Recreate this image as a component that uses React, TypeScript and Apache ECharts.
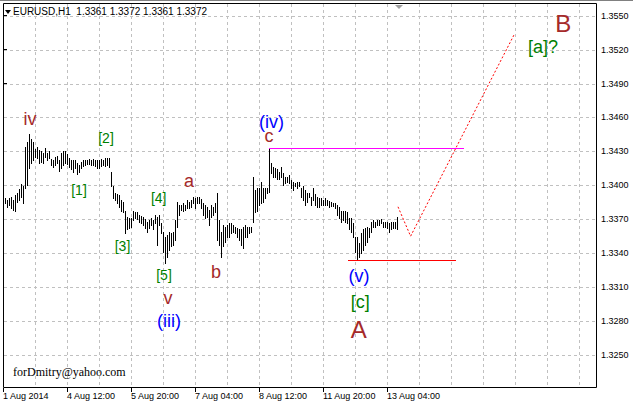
import React, { useEffect, useRef } from "react";
import * as echarts from "echarts";

// ---- Data (EURUSD H1, one entry per hourly bar) ----
const highs = [
  1.3390, 1.3389, 1.3387, 1.3389, 1.3390, 1.3387, 1.3391, 1.3393, 1.3397, 1.3401,
  1.3399, 1.3434, 1.3438, 1.3445, 1.3441, 1.3438, 1.3432, 1.3434, 1.3431, 1.3430,
  1.3429, 1.3433, 1.3429, 1.3430, 1.3423, 1.3422, 1.3425, 1.3426, 1.3422, 1.3429,
  1.3430, 1.3430, 1.3428, 1.3424, 1.3422, 1.3422, 1.3422, 1.3420, 1.3418, 1.3421,
  1.3422, 1.3422, 1.3422, 1.3423, 1.3422, 1.3423, 1.3422, 1.3422, 1.3422, 1.3423,
  1.3422, 1.3424, 1.3424, 1.3424, 1.3412, 1.3399, 1.3393, 1.3392, 1.3391, 1.3387,
  1.3385, 1.3377, 1.3372, 1.3371, 1.3371, 1.3377, 1.3376, 1.3376, 1.3374, 1.3373,
  1.3372, 1.3370, 1.3368, 1.3369, 1.3371, 1.3369, 1.3374, 1.3372, 1.3374, 1.3367,
  1.3359, 1.3354, 1.3356, 1.3359, 1.3358, 1.3359, 1.3369, 1.3385, 1.3383, 1.3383,
  1.3384, 1.3383, 1.3387, 1.3385, 1.3387, 1.3390, 1.3389, 1.3390, 1.3390, 1.3388,
  1.3384, 1.3383, 1.3381, 1.3378, 1.3383, 1.3381, 1.3384, 1.3393, 1.3369, 1.3359,
  1.3365, 1.3363, 1.3365, 1.3367, 1.3367, 1.3365, 1.3363, 1.3362, 1.3361, 1.3361,
  1.3363, 1.3365, 1.3363, 1.3363, 1.3363, 1.3407, 1.3396, 1.3398, 1.3398, 1.3403,
  1.3398, 1.3398, 1.3398, 1.3433, 1.3420, 1.3416, 1.3415, 1.3414, 1.3412, 1.3416,
  1.3411, 1.3407, 1.3407, 1.3409, 1.3405, 1.3403, 1.3402, 1.3403, 1.3403, 1.3398,
  1.3399, 1.3396, 1.3393, 1.3393, 1.3390, 1.3398, 1.3392, 1.3390, 1.3389, 1.3389,
  1.3387, 1.3389, 1.3387, 1.3386, 1.3385, 1.3384, 1.3384, 1.3383, 1.3381, 1.3377,
  1.3377, 1.3377, 1.3376, 1.3371, 1.3371, 1.3367, 1.3354, 1.3354, 1.3349, 1.3358,
  1.3361, 1.3362, 1.3363, 1.3362, 1.3368, 1.3369, 1.3368, 1.3369, 1.3369, 1.3370,
  1.3368, 1.3368, 1.3368, 1.3367, 1.3368, 1.3368, 1.3368, 1.3372,
];

const lows = [
  1.3384, 1.3384, 1.3381, 1.3383, 1.3380, 1.3378, 1.3377, 1.3385, 1.3387, 1.3390,
  1.3384, 1.3398, 1.3400, 1.3415, 1.3420, 1.3422, 1.3425, 1.3424, 1.3420, 1.3421,
  1.3420, 1.3425, 1.3422, 1.3424, 1.3418, 1.3416, 1.3418, 1.3420, 1.3413, 1.3415,
  1.3418, 1.3420, 1.3419, 1.3416, 1.3414, 1.3412, 1.3415, 1.3410, 1.3412, 1.3415,
  1.3417, 1.3418, 1.3419, 1.3419, 1.3418, 1.3418, 1.3417, 1.3415, 1.3415, 1.3417,
  1.3418, 1.3417, 1.3418, 1.3416, 1.3399, 1.3389, 1.3387, 1.3384, 1.3381, 1.3377,
  1.3376, 1.3358, 1.3361, 1.3362, 1.3363, 1.3369, 1.3371, 1.3370, 1.3368, 1.3367,
  1.3365, 1.3362, 1.3359, 1.3362, 1.3365, 1.3361, 1.3367, 1.3347, 1.3365, 1.3358,
  1.3341, 1.3331, 1.3337, 1.3343, 1.3346, 1.3347, 1.3352, 1.3363, 1.3374, 1.3378,
  1.3377, 1.3378, 1.3380, 1.3380, 1.3381, 1.3384, 1.3380, 1.3384, 1.3384, 1.3380,
  1.3374, 1.3371, 1.3372, 1.3365, 1.3372, 1.3374, 1.3376, 1.3352, 1.3347, 1.3337,
  1.3346, 1.3350, 1.3354, 1.3354, 1.3358, 1.3359, 1.3358, 1.3354, 1.3352, 1.3347,
  1.3345, 1.3354, 1.3354, 1.3358, 1.3359, 1.3368, 1.3376, 1.3377, 1.3383, 1.3384,
  1.3385, 1.3389, 1.3393, 1.3394, 1.3411, 1.3407, 1.3407, 1.3406, 1.3406, 1.3407,
  1.3400, 1.3402, 1.3403, 1.3402, 1.3398, 1.3396, 1.3399, 1.3398, 1.3399, 1.3390,
  1.3387, 1.3383, 1.3385, 1.3390, 1.3383, 1.3387, 1.3383, 1.3381, 1.3381, 1.3383,
  1.3383, 1.3383, 1.3383, 1.3381, 1.3382, 1.3382, 1.3380, 1.3374, 1.3371, 1.3368,
  1.3369, 1.3368, 1.3367, 1.3361, 1.3359, 1.3354, 1.3341, 1.3335, 1.3337, 1.3340,
  1.3343, 1.3347, 1.3350, 1.3354, 1.3359, 1.3363, 1.3363, 1.3365, 1.3365, 1.3367,
  1.3363, 1.3363, 1.3362, 1.3359, 1.3361, 1.3362, 1.3362, 1.3361,
];

const timeLabels = ["1 Aug 2014", "4 Aug 12:00", "5 Aug 20:00", "7 Aug 04:00", "8 Aug 12:00", "11 Aug 20:00", "13 Aug 04:00"];
const timeLabelBars = [0, 32, 64, 96, 128, 160, 192];
const gridBars = [16, 32, 48, 64, 80, 96, 112, 128, 144, 160, 176, 192, 208, 224, 240, 256, 272, 288];
const priceTicks = [1.3250, 1.3280, 1.3310, 1.3340, 1.3370, 1.3400, 1.3430, 1.3460, 1.3490, 1.3520, 1.3550];

// horizontal levels: fromBar, toBar, price
const levelFromBars = [133, 172.5];
const levelToBars = [230.5, 226.3];
const levelPrices = [1.3433, 1.3334];
const levelColors = ["#ff00ff", "#ff0000"];
// forecast path
const forecastBars = [197.5, 203.8, 255.5];
const forecastPrices = [1.3381, 1.3355, 1.3533];

const headerText = "EURUSD,H1  1.3361 1.3372 1.3361 1.3372";
const footerText = "forDmitry@yahoo.com";

const BROWN = "#A52A2A";
const GREEN = "#008000";
const BLUE = "#0000FF";

const waveLabels = [
  { text: "iv", x: 30, y: 119, color: BROWN, size: 18 },
  { text: "[1]", x: 79, y: 190, color: GREEN, size: 14 },
  { text: "[2]", x: 106, y: 138, color: GREEN, size: 14 },
  { text: "[3]", x: 122.5, y: 246, color: GREEN, size: 14 },
  { text: "[4]", x: 158.7, y: 198, color: GREEN, size: 14 },
  { text: "[5]", x: 164, y: 275, color: GREEN, size: 14 },
  { text: "v", x: 168, y: 298, color: BROWN, size: 18 },
  { text: "(iii)", x: 169, y: 320.5, color: BLUE, size: 18 },
  { text: "a", x: 189, y: 181, color: BROWN, size: 18 },
  { text: "b", x: 216, y: 272, color: BROWN, size: 18 },
  { text: "(iv)", x: 271.5, y: 121.5, color: BLUE, size: 18 },
  { text: "c", x: 269, y: 136, color: BROWN, size: 18 },
  { text: "(v)", x: 359, y: 276, color: BLUE, size: 18 },
  { text: "[c]", x: 360.3, y: 301.7, color: GREEN, size: 18 },
  { text: "A", x: 358.7, y: 329, color: BROWN, size: 24 },
  { text: "B", x: 563.3, y: 23.5, color: BROWN, size: 24 },
  { text: "[a]?", x: 543, y: 46.5, color: GREEN, size: 18 },
];

const FONT = "'Liberation Sans', Arial, sans-serif";

export default function App() {
  const ref = useRef<HTMLDivElement>(null);

  useEffect(() => {
    if (!ref.current) return;
    const chart = echarts.init(ref.current, undefined, { renderer: "svg" });

    const barData = highs.map((h, i) => [i, h, lows[i]]);
    const levelData = levelPrices.map((p, k) => [levelFromBars[k], p, levelToBars[k], k]);

    const option: any = {
      animation: false,
      backgroundColor: "#ffffff",
      grid: { left: 3, top: 4, width: 593, height: 384, show: false },
      xAxis: {
        type: "value",
        min: 0,
        max: 296.5,
        axisLine: { show: false },
        splitLine: { show: false },
        axisTick: {
          show: true,
          customValues: timeLabelBars,
          length: 4,
          lineStyle: { color: "#000", width: 1 },
        },
        axisLabel: {
          customValues: timeLabelBars,
          formatter: (v: number) => {
            const k = timeLabelBars.indexOf(Math.round(v));
            return k >= 0 ? timeLabels[k] : "";
          },
          align: "left",
          margin: 3,
          fontSize: 9,
          fontFamily: FONT,
          color: "#000",
        },
      },
      yAxis: {
        type: "value",
        position: "right",
        min: 1.32208,
        max: 1.35603,
        axisLine: { show: false },
        splitLine: { show: false },
        axisTick: {
          show: true,
          customValues: priceTicks,
          length: 4,
          lineStyle: { color: "#000", width: 1 },
        },
        axisLabel: {
          customValues: priceTicks,
          formatter: (v: number) => v.toFixed(4),
          margin: 5,
          fontSize: 9,
          fontFamily: FONT,
          color: "#000",
        },
      },
      series: [
        {
          type: "custom",
          name: "hgrid",
          silent: true,
          z: 1,
          data: priceTicks.map((p) => [0, p]),
          renderItem: (params: any, api: any) => {
            const cs = params.coordSys;
            const pt = api.coord([0, api.value(1)]);
            const y = Math.round(pt[1]) + 0.5;
            return {
              type: "line",
              shape: { x1: cs.x + 1, y1: y, x2: cs.x + cs.width, y2: y },
              style: { stroke: "#c0c0c0", lineWidth: 1, lineDash: [3, 3] },
            };
          },
        },
        {
          type: "custom",
          name: "vgrid",
          silent: true,
          z: 1,
          data: gridBars.map((b) => [b, 1.34]),
          renderItem: (params: any, api: any) => {
            const cs = params.coordSys;
            const pt = api.coord([api.value(0), 1.34]);
            const x = Math.round(pt[0]) + 0.5;
            return {
              type: "line",
              shape: { x1: x, y1: cs.y, x2: x, y2: cs.y + cs.height },
              style: { stroke: "#c0c0c0", lineWidth: 1, lineDash: [3, 3] },
            };
          },
        },
        {
          type: "custom",
          name: "bars",
          z: 3,
          data: barData,
          encode: { x: 0, y: [1, 2] },
          renderItem: (params: any, api: any) => {
            const i = api.value(0);
            const hi = api.coord([i, api.value(1)]);
            const lo = api.coord([i, api.value(2)]);
            const x = Math.round(hi[0]) + 0.5;
            return {
              type: "line",
              shape: { x1: x, y1: Math.round(hi[1]), x2: x, y2: Math.round(lo[1]) + 1 },
              style: { stroke: "#000000", lineWidth: 1 },
            };
          },
        },
        {
          type: "custom",
          name: "levels",
          z: 4,
          silent: true,
          data: levelData,
          encode: { x: [0, 2], y: 1 },
          renderItem: (params: any, api: any) => {
            const a = api.coord([api.value(0), api.value(1)]);
            const b = api.coord([api.value(2), api.value(1)]);
            const y = Math.round(a[1]) + 0.5;
            return {
              type: "line",
              shape: { x1: Math.round(a[0]), y1: y, x2: Math.round(b[0]), y2: y },
              style: { stroke: levelColors[api.value(3)], lineWidth: 1 },
            };
          },
        },
        {
          type: "line",
          name: "forecast",
          z: 4,
          symbol: "none",
          silent: true,
          data: forecastBars.map((b, k) => [b, forecastPrices[k]]),
          lineStyle: { color: "#ff0000", width: 1, type: [2, 2] },
        },
      ],
      graphic: [
        { type: "rect", z: 10, shape: { x: 0, y: 0, width: 633, height: 1 }, style: { fill: "#808080" } },
        {
          type: "rect",
          z: 10,
          shape: { x: 3.5, y: 3.5, width: 593, height: 384 },
          style: { fill: "none", stroke: "#000", lineWidth: 1 },
        },
        {
          type: "polygon",
          z: 11,
          shape: { points: [[5, 10], [11, 10], [8, 14]] },
          style: { fill: "#000" },
        },
        {
          type: "polygon",
          z: 11,
          shape: { points: [[395, 5], [403, 5], [399, 9]] },
          style: { fill: "#a0a0a0" },
        },
        {
          type: "text",
          z: 11,
          x: 13,
          y: 11,
          style: { text: headerText, font: `10px ${FONT}`, fill: "#000", textVerticalAlign: "middle" },
        },
        {
          type: "text",
          z: 11,
          x: 13,
          y: 372,
          style: {
            text: footerText,
            font: "12px 'Liberation Serif', 'Times New Roman', serif",
            fill: "#000",
            textVerticalAlign: "middle",
          },
        },
        ...waveLabels.map((l) => ({
          type: "text",
          z: 12,
          x: l.x,
          y: l.y,
          style: {
            text: l.text,
            font: `${l.size}px ${FONT}`,
            fill: l.color,
            textAlign: "center",
            textVerticalAlign: "middle",
          },
        })),
      ],
    };

    chart.setOption(option);
    return () => chart.dispose();
  }, []);

  return (
    <div
      ref={ref}
      style={{ position: "fixed", left: 0, top: 0, width: 633, height: 404, background: "#fff" }}
    />
  );
}
